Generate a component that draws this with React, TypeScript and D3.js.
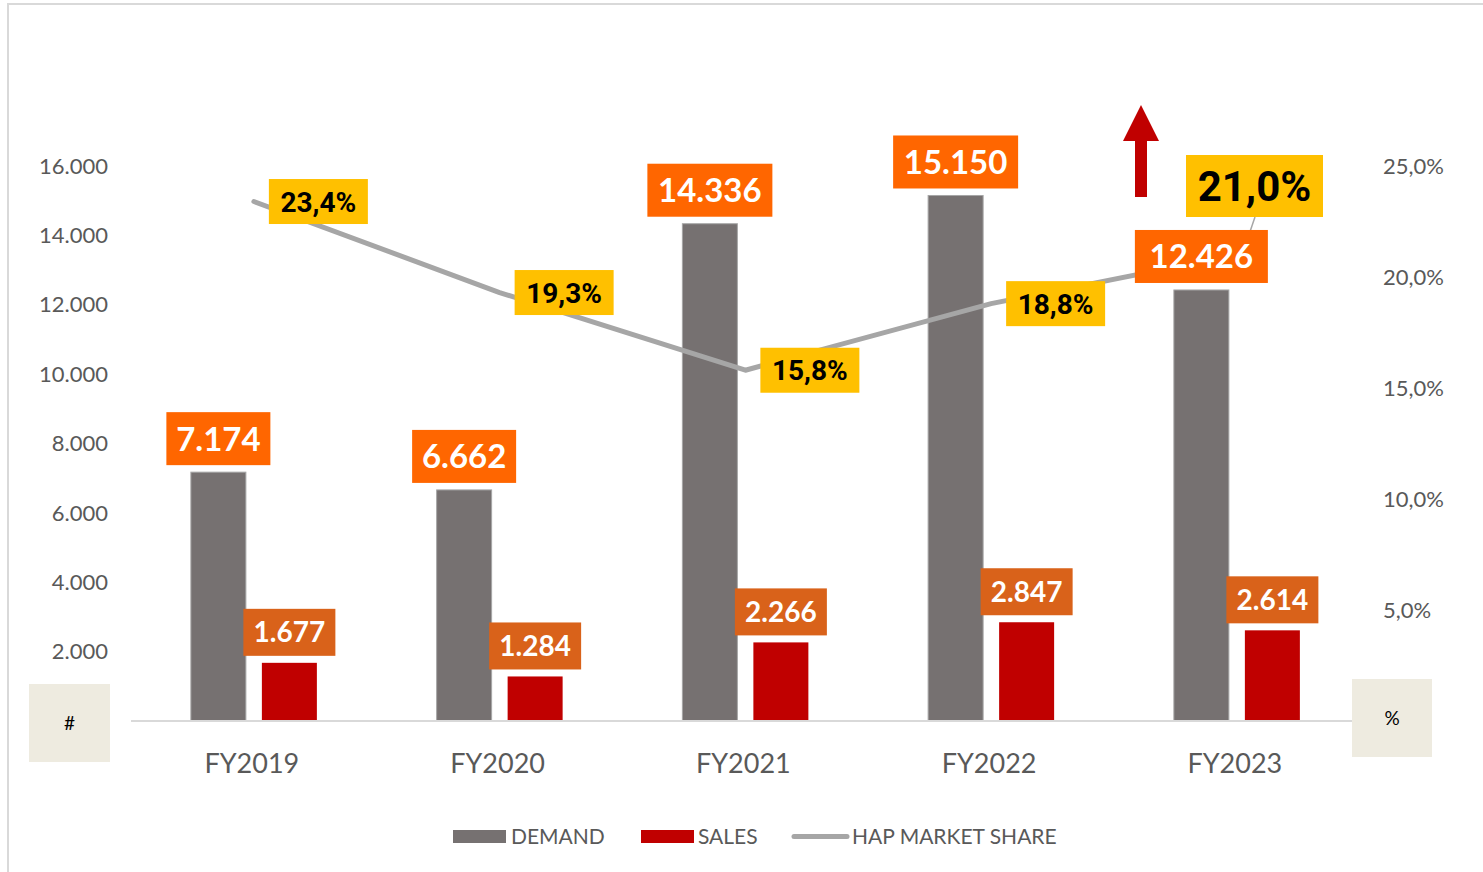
import React from "react";
import * as d3 from "d3";

const categories = ["FY2019", "FY2020", "FY2021", "FY2022", "FY2023"];
const demand = [7174, 6662, 14336, 15150, 12426];
const sales = [1677, 1284, 2266, 2847, 2614];
const marketShare = [23.4, 19.3, 15.8, 18.8, 21.0];
const leftTicks = [2000, 4000, 6000, 8000, 10000, 12000, 14000, 16000];
const rightTicks = [5, 10, 15, 20, 25];

const W = 1483;
const H = 872;
const plotLeft = 131;
const plotRight = 1359.75;
const yBase = 721;
const yTop = 166;

const FONT = "Lato, 'Open Sans', sans-serif";
const LABEL_FONT = "Roboto, 'DejaVu Sans', sans-serif";

const fmtThousands = (v: number) => d3.format(",")(v).replace(/,/g, ".");
const fmtPct = (v: number) => v.toFixed(1).replace(".", ",") + "%";

export default function App() {
  const x = d3.scaleBand<string>().domain(categories).range([plotLeft, plotRight]);
  const yL = d3.scaleLinear().domain([0, 16000]).range([yBase, yTop]);
  const yR = d3.scaleLinear().domain([0, 25]).range([yBase, yTop]);
  const barW = 55;
  const gap = 16;
  const cx = (c: string) => (x(c) as number) + x.bandwidth() / 2;

  const line = d3
    .line<number>()
    .x((_, i) => cx(categories[i]))
    .y((d) => yR(d));

  const demandBoxW = (s: string) => (s === "12.426" ? 133 : s.length >= 6 ? 125 : 104);

  return (
    <svg width={W} height={H} style={{ display: "block", position: "absolute", left: 0, top: 0 }}>
      <rect x={0} y={0} width={W} height={H} fill="#fff" />
      <rect x={8} y={4} width={W} height={H} fill="none" stroke="#D9D9D9" strokeWidth={2} />

      {/* left axis labels */}
      {leftTicks.map((t) => (
        <text key={t} x={108} y={yL(t)} dy="0.35em" textAnchor="end" fontFamily={FONT} fontSize={22} fill="#595959">
          {fmtThousands(t)}
        </text>
      ))}
      {/* right axis labels */}
      {rightTicks.map((t) => (
        <text key={t} x={1383} y={yR(t)} dy="0.35em" textAnchor="start" fontFamily={FONT} fontSize={22} fill="#595959">
          {fmtPct(t)}
        </text>
      ))}

      {/* bars */}
      {categories.map((c, i) => (
        <g key={c}>
          <rect
            x={cx(c) - gap / 2 - barW}
            y={yL(demand[i])}
            width={barW}
            height={yBase - yL(demand[i])}
            fill="#767171"
            stroke="#A6A6A6"
            strokeWidth={1}
          />
          <rect
            x={cx(c) + gap / 2}
            y={yL(sales[i])}
            width={barW}
            height={yBase - yL(sales[i])}
            fill="#C00000"
          />
        </g>
      ))}

      {/* baseline */}
      <line x1={plotLeft} x2={1352} y1={yBase} y2={yBase} stroke="#D9D9D9" strokeWidth={2} />

      {/* market share line */}
      <path d={line(marketShare) as string} fill="none" stroke="#A6A6A6" strokeWidth={5} strokeLinecap="round" strokeLinejoin="round" />

      {/* leader line for last label */}
      <line x1={1255} y1={217} x2={1241} y2={258} stroke="#A6A6A6" strokeWidth={1.5} />

      {/* demand labels */}
      {categories.map((c, i) => {
        const s = fmtThousands(demand[i]);
        const bw = demandBoxW(s);
        const bx = cx(c) - gap / 2 - barW / 2;
        const by = yL(demand[i]) - 7;
        return (
          <g key={"dl" + c}>
            <rect x={bx - bw / 2} y={by - 53} width={bw} height={53} fill="#FF6600" />
            <text x={bx} y={by - 26.5} dy="0.36em" textAnchor="middle" fontFamily={FONT} fontWeight={700} fontSize={33} fill="#fff">
              {s}
            </text>
          </g>
        );
      })}

      {/* sales labels */}
      {categories.map((c, i) => {
        const s = fmtThousands(sales[i]);
        const bw = 92;
        const bx = cx(c) + gap / 2 + barW / 2;
        const by = yL(sales[i]) - 7;
        return (
          <g key={"sl" + c}>
            <rect x={bx - bw / 2} y={by - 47} width={bw} height={47} fill="#D9621A" />
            <text x={bx} y={by - 23.5} dy="0.36em" textAnchor="middle" fontFamily={FONT} fontWeight={700} fontSize={28} fill="#fff">
              {s}
            </text>
          </g>
        );
      })}

      {/* market share labels */}
      {categories.map((c, i) => {
        const s = fmtPct(marketShare[i]);
        const last = i === categories.length - 1;
        if (last) {
          return (
            <g key={"pl" + c}>
              <rect x={1186} y={155} width={137} height={62} fill="#FFC000" />
              <text x={1254.5} y={186} dy="0.36em" textAnchor="middle" fontFamily={LABEL_FONT} fontWeight={700} fontSize={42} fill="#000">
                {s}
              </text>
            </g>
          );
        }
        const px = cx(c) + 15;
        const py = yR(marketShare[i]);
        return (
          <g key={"pl" + c}>
            <rect x={px} y={py - 22.5} width={99} height={45} fill="#FFC000" />
            <text x={px + 49.5} y={py} dy="0.36em" textAnchor="middle" fontFamily={LABEL_FONT} fontWeight={700} fontSize={28} fill="#000">
              {s}
            </text>
          </g>
        );
      })}

      {/* red arrow */}
      <path d="M1141,105 L1159,141 L1147,141 L1147,197 L1135,197 L1135,141 L1123,141 Z" fill="#C00000" />

      {/* x labels */}
      {categories.map((c) => (
        <text key={"x" + c} x={cx(c) - 2} y={764} dy="0.35em" textAnchor="middle" fontFamily={FONT} fontSize={27} fill="#595959">
          {c}
        </text>
      ))}

      {/* unit boxes */}
      <rect x={29} y={684} width={81} height={78} fill="#EEEBE0" />
      <text x={69.5} y={723} dy="0.35em" textAnchor="middle" fontFamily={FONT} fontSize={19} fill="#000">#</text>
      <rect x={1352} y={679} width={80} height={78} fill="#EEEBE0" />
      <text x={1392} y={718} dy="0.35em" textAnchor="middle" fontFamily={FONT} fontSize={19} fill="#000">%</text>

      {/* legend */}
      <rect x={453} y={830} width={53} height={13} fill="#767171" />
      <text x={511} y={836.5} dy="0.35em" fontFamily={FONT} fontSize={21} fill="#595959">DEMAND</text>
      <rect x={641} y={830} width={53} height={13} fill="#C00000" />
      <text x={698} y={836.5} dy="0.35em" fontFamily={FONT} fontSize={21} fill="#595959">SALES</text>
      <line x1={794} x2={847} y1={836.5} y2={836.5} stroke="#A6A6A6" strokeWidth={5} strokeLinecap="round" />
      <text x={852} y={836.5} dy="0.35em" fontFamily={FONT} fontSize={21} fill="#595959">HAP MARKET SHARE</text>
    </svg>
  );
}
